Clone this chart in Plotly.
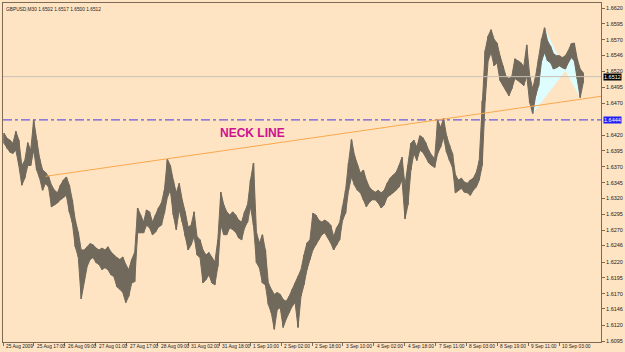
import plotly.graph_objects as go

SYMBOL_INFO = "GBPUSD,M30 1.6502 1.6517 1.6500 1.6512"

# bar highs / lows (M30 bars, one entry per ~3 bars)
HIGH = [
    1.6423, 1.6415, 1.6412, 1.6407, 1.6426, 1.6412, 1.6372, 1.6380, 1.6408, 1.6396,
    1.6444, 1.6412, 1.6383, 1.6365, 1.6361, 1.6355, 1.6341, 1.6333, 1.6329, 1.6341,
    1.6349, 1.6354, 1.6341, 1.6318, 1.6286, 1.6267, 1.6239, 1.6239, 1.6244, 1.6249,
    1.6247, 1.6242, 1.6239, 1.6242, 1.6239, 1.6244, 1.6236, 1.6231, 1.6227, 1.6224,
    1.6228, 1.6216, 1.6208, 1.6224, 1.6235, 1.6305, 1.6294, 1.6283, 1.6302, 1.6299,
    1.6283, 1.6294, 1.6305, 1.6313, 1.6333, 1.6382, 1.6372, 1.6349, 1.6329, 1.6344,
    1.6318, 1.6299, 1.6275, 1.6278, 1.6299, 1.6260, 1.6255, 1.6239, 1.6231, 1.6235,
    1.6227, 1.6220, 1.6255, 1.6330, 1.6310, 1.6299, 1.6294, 1.6299, 1.6294, 1.6286,
    1.6283, 1.6299, 1.6310, 1.6349, 1.6376, 1.6266, 1.6250, 1.6263, 1.6239, 1.6187,
    1.6177, 1.6169, 1.6172, 1.6169, 1.6161, 1.6158, 1.6166, 1.6177, 1.6187, 1.6197,
    1.6208, 1.6231, 1.6250, 1.6255, 1.6297, 1.6294, 1.6286, 1.6283, 1.6286, 1.6283,
    1.6278, 1.6260, 1.6274, 1.6282, 1.6307, 1.6333, 1.6376, 1.6413, 1.6388, 1.6372,
    1.6360, 1.6365, 1.6349, 1.6338, 1.6333, 1.6330, 1.6333, 1.6329, 1.6333, 1.6344,
    1.6352, 1.6357, 1.6361, 1.6372, 1.6385, 1.6341, 1.6372, 1.6407, 1.6412, 1.6401,
    1.6419, 1.6416, 1.6408, 1.6396, 1.6388, 1.6383, 1.6444, 1.6432, 1.6446, 1.6419,
    1.6404, 1.6391, 1.6357, 1.6349, 1.6352, 1.6346, 1.6344, 1.6349, 1.6352, 1.6361,
    1.6380, 1.6474, 1.6553, 1.6576, 1.6586, 1.6571, 1.6565, 1.6545, 1.6529, 1.6513,
    1.6509, 1.6513, 1.6540, 1.6537, 1.6534, 1.6528, 1.6562, 1.6513, 1.6493, 1.6513,
    1.6540, 1.6571, 1.6589, 1.6568, 1.6560, 1.6548, 1.6545, 1.6545, 1.6542, 1.6545,
    1.6553, 1.6564, 1.6565, 1.6540, 1.6524, 1.6518,
]
LOW = [
    1.6407, 1.6399, 1.6393, 1.6391, 1.6396, 1.6372, 1.6341, 1.6352, 1.6372, 1.6372,
    1.6396, 1.6365, 1.6352, 1.6333, 1.6344, 1.6338, 1.6307, 1.6310, 1.6313, 1.6318,
    1.6322, 1.6325, 1.6299, 1.6282, 1.6244, 1.6228, 1.6162, 1.6189, 1.6213, 1.6224,
    1.6227, 1.6219, 1.6216, 1.6208, 1.6211, 1.6208, 1.6200, 1.6197, 1.6181, 1.6177,
    1.6172, 1.6156, 1.6166, 1.6187, 1.6189, 1.6266, 1.6266, 1.6266, 1.6278, 1.6274,
    1.6263, 1.6267, 1.6275, 1.6278, 1.6297, 1.6322, 1.6333, 1.6294, 1.6271, 1.6302,
    1.6283, 1.6260, 1.6239, 1.6247, 1.6260, 1.6231, 1.6227, 1.6187, 1.6192, 1.6200,
    1.6187, 1.6184, 1.6213, 1.6278, 1.6263, 1.6263, 1.6274, 1.6271, 1.6267, 1.6258,
    1.6255, 1.6274, 1.6283, 1.6307, 1.6278, 1.6219, 1.6211, 1.6187, 1.6184, 1.6153,
    1.6140, 1.6114, 1.6145, 1.6148, 1.6117, 1.6130, 1.6140, 1.6150, 1.6156, 1.6117,
    1.6166, 1.6184, 1.6208, 1.6224, 1.6239, 1.6247, 1.6255, 1.6263, 1.6266, 1.6258,
    1.6250, 1.6239, 1.6247, 1.6255, 1.6286, 1.6297, 1.6333, 1.6354, 1.6341, 1.6333,
    1.6329, 1.6318, 1.6307, 1.6314, 1.6318, 1.6318, 1.6313, 1.6305, 1.6310, 1.6322,
    1.6325, 1.6329, 1.6333, 1.6338, 1.6349, 1.6288, 1.6310, 1.6365, 1.6391, 1.6380,
    1.6396, 1.6393, 1.6385, 1.6376, 1.6372, 1.6369, 1.6391, 1.6401, 1.6416, 1.6393,
    1.6380, 1.6369, 1.6329, 1.6333, 1.6336, 1.6330, 1.6329, 1.6325, 1.6333, 1.6338,
    1.6349, 1.6372, 1.6474, 1.6537, 1.6550, 1.6529, 1.6534, 1.6506, 1.6498, 1.6490,
    1.6482, 1.6493, 1.6509, 1.6506, 1.6502, 1.6498, 1.6513, 1.6471, 1.6454, 1.6482,
    1.6498, 1.6537, 1.6550, 1.6537, 1.6534, 1.6524, 1.6526, 1.6529, 1.6526, 1.6524,
    1.6534, 1.6542, 1.6537, 1.6509, 1.6479, 1.6502,
]

LAST_PRICE = 1.6512
LEVEL = 1.6444
NECK_X = [14, 201]
NECK_Y = [1.6355, 1.6481]
NECK_LABEL = "NECK LINE"
NECK_LABEL_POS = (83.7, 1.6423)

# harmonic pattern X-A-B-C-D
PATTERN_X = [178, 182, 189, 192, 194]
PATTERN_Y = [1.6454, 1.6589, 1.6521, 1.6565, 1.6479]

X_TICK_POS = [-0.3, 10.1, 20.5, 30.9, 41.3, 51.7, 62.1, 72.5, 82.9, 93.3,
              103.7, 114.1, 124.5, 134.9, 145.3, 155.7, 166.1, 176.5, 186.9]
X_TICK_TEXT = ["25 Aug 2009", "25 Aug 17:00", "26 Aug 09:00", "27 Aug 01:00",
               "27 Aug 17:00", "28 Aug 09:00", "31 Aug 02:00", "31 Aug 18:00",
               "1 Sep 10:00", "2 Sep 02:00", "2 Sep 18:00", "3 Sep 10:00",
               "4 Sep 02:00", "4 Sep 18:00", "7 Sep 11:00", "8 Sep 03:00",
               "8 Sep 19:00", "9 Sep 11:00", "10 Sep 03:00"]
Y_TICKS = [1.6620, 1.6595, 1.6570, 1.6546, 1.6520, 1.6495, 1.6470, 1.6420,
           1.6395, 1.6370, 1.6345, 1.6320, 1.6295, 1.6270, 1.6246, 1.6220,
           1.6195, 1.6170, 1.6146, 1.6120, 1.6095]

BG = "#FFE4C4"
FRAME = "#7d6a56"
BAR = "#716a5c"
FONT = "Liberation Sans"
SMALL = 5.5
XSMALL = 4.8

fig = go.Figure()

# pattern triangles (behind bars)
tri1 = [0, 1, 2, 0]
tri2 = [2, 3, 4, 2]
for tri in (tri1, tri2):
    fig.add_trace(go.Scatter(
        x=[PATTERN_X[k] for k in tri], y=[PATTERN_Y[k] for k in tri],
        mode="lines", fill="toself", fillcolor="#DDFDFF",
        line=dict(width=0), hoverinfo="skip"))

idx = list(range(len(HIGH)))
# high-low band
fig.add_trace(go.Scatter(x=idx, y=LOW, mode="lines",
                         line=dict(color=BAR, width=1), hoverinfo="skip"))
fig.add_trace(go.Scatter(x=idx, y=HIGH, mode="lines", fill="tonexty",
                         fillcolor=BAR, line=dict(color=BAR, width=1), hoverinfo="skip"))
# bar verticals
xs, ys = [], []
for i, (h, l) in enumerate(zip(HIGH, LOW)):
    xs += [i, i, None]
    ys += [l, h, None]
fig.add_trace(go.Scatter(x=xs, y=ys, mode="lines",
                         line=dict(color=BAR, width=1.6), hoverinfo="skip"))

shapes = [
    dict(type="line", xref="paper", x0=0, x1=1, yref="y", y0=LAST_PRICE, y1=LAST_PRICE,
         line=dict(color="#C8C0B6", width=1)),
    dict(type="line", xref="paper", x0=0, x1=1, yref="y", y0=LEVEL, y1=LEVEL,
         line=dict(color="#6A5ADD", width=1.2, dash="dashdot")),
    dict(type="line", xref="x", x0=NECK_X[0], x1=NECK_X[1], yref="y",
         y0=NECK_Y[0], y1=NECK_Y[1], line=dict(color="#F9A84C", width=1)),
]

ann = []
for pos, txt in zip(X_TICK_POS, X_TICK_TEXT):
    ann.append(dict(x=pos, xref="x", y=0, yref="paper", xanchor="left", yanchor="top",
                    xshift=1, yshift=0, text=txt, showarrow=False,
                    font=dict(family=FONT, size=XSMALL, color="#222")))
ann.append(dict(x=0, xref="paper", y=1, yref="paper", xanchor="left", yanchor="top",
                xshift=1, yshift=-2, text=SYMBOL_INFO, showarrow=False,
                font=dict(family=FONT, size=XSMALL, color="#222")))
ann.append(dict(x=1, xref="paper", y=LAST_PRICE, yref="y", xanchor="left", yanchor="middle",
                xshift=2, text=f"{LAST_PRICE:.4f}", showarrow=False, bgcolor="#000000",
                borderpad=0, font=dict(family=FONT, size=SMALL, color="#FFFFFF")))
ann.append(dict(x=1, xref="paper", y=LEVEL, yref="y", xanchor="left", yanchor="middle",
                xshift=2, text=f"{LEVEL:.4f}", showarrow=False, bgcolor="#1E1EF5",
                borderpad=0, font=dict(family=FONT, size=SMALL, color="#FFFFFF")))
ann.append(dict(x=NECK_LABEL_POS[0], y=NECK_LABEL_POS[1], xref="x", yref="y",
                text=f"<b>{NECK_LABEL}</b>", showarrow=False,
                font=dict(family=FONT, size=12, color="#CC1190")))

fig.update_layout(
    width=625, height=352,
    margin=dict(l=2, r=19, t=2, b=10),
    paper_bgcolor=BG, plot_bgcolor=BG,
    showlegend=False,
    shapes=shapes, annotations=ann,
    xaxis=dict(range=[-0.333, 201], showgrid=False, zeroline=False,
               showline=True, mirror=True, linecolor=FRAME, linewidth=1,
               ticks="outside", ticklen=3, tickcolor=FRAME,
               tickvals=X_TICK_POS, showticklabels=False),
    yaxis=dict(range=[1.6094, 1.6628], side="right", showgrid=False, zeroline=False,
               showline=True, mirror=True, linecolor=FRAME, linewidth=1,
               ticks="outside", ticklen=3, tickcolor=FRAME,
               tickvals=Y_TICKS, tickformat=".4f",
               tickfont=dict(family=FONT, size=SMALL, color="#222")),
)

fig.write_html("out.html")
